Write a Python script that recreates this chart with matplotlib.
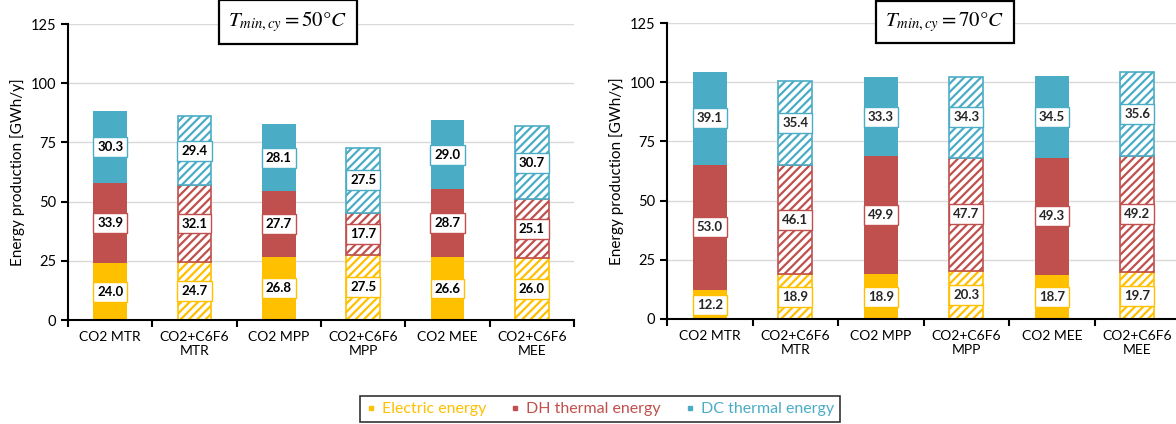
import numpy as np
import matplotlib.pyplot as plt
from matplotlib.lines import Line2D

plt.rcParams['font.family'] = ['Lato', 'DejaVu Sans']
plt.rcParams['mathtext.fontset'] = 'stix'
plt.rcParams['hatch.linewidth'] = 1.6

cases = ["CO2 MTR", "CO2+C6F6\nMTR", "CO2 MPP", "CO2+C6F6\nMPP", "CO2 MEE", "CO2+C6F6\nMEE"]
hatched = [False, True, False, True, False, True]

# T_min,cy = 50 C
elec_50 = [24.0, 24.7, 26.8, 27.5, 26.6, 26.0]
dh_50 = [33.9, 32.1, 27.7, 17.7, 28.7, 25.1]
dc_50 = [30.3, 29.4, 28.1, 27.5, 29.0, 30.7]

# T_min,cy = 70 C
elec_70 = [12.2, 18.9, 18.9, 20.3, 18.7, 19.7]
dh_70 = [53.0, 46.1, 49.9, 47.7, 49.3, 49.2]
dc_70 = [39.1, 35.4, 33.3, 34.3, 34.5, 35.6]

c_el = "#FFC000"
c_dh = "#C0504D"
c_dc = "#4BACC6"


def panel(ax, elec, dh, dc, title, txtcol):
    x = np.arange(len(cases))
    bottom = np.zeros(len(cases))
    for vals, col in [(elec, c_el), (dh, c_dh), (dc, c_dc)]:
        for i, v in enumerate(vals):
            if hatched[i]:
                ax.bar(x[i], v, 0.4, bottom=bottom[i], facecolor="white",
                       edgecolor=col, hatch="////", linewidth=1.2, zorder=2)
            else:
                ax.bar(x[i], v, 0.4, bottom=bottom[i], color=col, zorder=2)
            ax.text(x[i], bottom[i] + v / 2, f"{v:.1f}", ha="center", va="center",
                    fontsize=9.5, fontweight="bold", color=txtcol, zorder=4,
                    bbox=dict(boxstyle="square,pad=0.3", fc="white", ec=col, lw=1))
        bottom += np.array(vals)
    ax.set_xlim(-0.5, len(cases) - 0.5)
    ax.set_ylim(0, 125)
    ax.set_yticks([0, 25, 50, 75, 100, 125])
    ax.yaxis.grid(True, color="#d9d9d9", lw=1, zorder=0)
    ax.set_axisbelow(True)
    ax.set_xticks(x)
    ax.set_xticklabels(cases, fontsize=10)
    ax.tick_params(axis="x", which="major", length=0, pad=8)
    ax.set_xticks(np.arange(len(cases) + 1) - 0.5, minor=True)
    ax.tick_params(axis="x", which="minor", length=5, width=1.5, direction="out")
    ax.tick_params(axis="y", length=5, width=1.5, labelsize=10.5)
    for s in ["top", "right"]:
        ax.spines[s].set_visible(False)
    ax.spines["left"].set_linewidth(1.5)
    ax.spines["bottom"].set_linewidth(1.5)
    ax.set_ylabel("Energy production [GWh/y]", fontsize=11)


fig = plt.figure(figsize=(11.76, 4.24), dpi=100)
ax1 = fig.add_axes([68 / 1176, 1 - 320 / 424, 506 / 1176, 296 / 424])
ax2 = fig.add_axes([667 / 1176, 1 - 319 / 424, 513 / 1176, 296 / 424])

panel(ax1, elec_50, dh_50, dc_50, "50", "black")
panel(ax2, elec_70, dh_70, dc_70, "70", "#262626")

for xc, t in [(288, r"$T_{min,cy} = 50°C$"), (945, r"$T_{min,cy} = 70°C$")]:
    fig.text(xc / 1176, 1 - 22 / 424, t, ha="center", va="center", fontsize=15,
             bbox=dict(boxstyle="square,pad=0.45", fc="white", ec="black", lw=1.6))

handles = [Line2D([], [], marker="s", ls="none", color=c, markersize=3.5)
           for c in (c_el, c_dh, c_dc)]
leg = fig.legend(handles, ["Electric energy", "DH thermal energy", "DC thermal energy"],
                 loc="center", bbox_to_anchor=(600 / 1176, 1 - 409 / 424), ncol=3,
                 fontsize=11.5, frameon=True, fancybox=False, edgecolor="black",
                 handlelength=0.6, handletextpad=0.4, columnspacing=1.5,
                 borderpad=0.35)
leg.get_frame().set_linewidth(1.2)
for txt, c in zip(leg.get_texts(), (c_el, c_dh, c_dc)):
    txt.set_color(c)

fig.savefig("out.png", dpi=100)
